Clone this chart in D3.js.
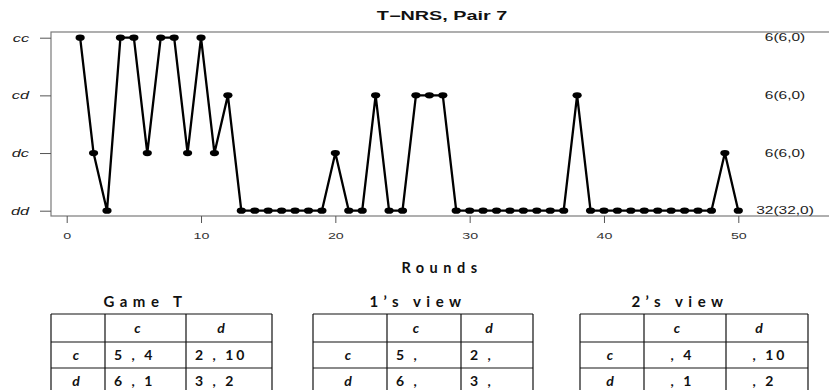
<!DOCTYPE html>
<html>
<head>
<meta charset="utf-8">
<script src="https://cdn.jsdelivr.net/npm/d3@7/dist/d3.min.js"></script>
<style>
    body { margin: 0; background: #fff; }
    svg { display: block; }
</style>
</head>
<body>
<svg id="chart" width="829" height="390"></svg>
<script>
// outcome of each round, rounds 1..50
var outcomes = ["cc", "dc", "dd", "cc", "cc", "dc", "cc", "cc", "dc", "cc", "dc", "cd",
    "dd", "dd", "dd", "dd", "dd", "dd", "dd", "dc", "dd", "dd", "cd", "dd", "dd",
    "cd", "cd", "cd", "dd", "dd", "dd", "dd", "dd", "dd", "dd", "dd", "dd", "cd",
    "dd", "dd", "dd", "dd", "dd", "dd", "dd", "dd", "dd", "dd", "dc", "dd"];
var states = ["cc", "cd", "dc", "dd"];
// numbers in brackets of the right labels
var splitCounts = [[6, 0], [6, 0], [6, 0], [32, 0]];
var xTicks = [0, 10, 20, 30, 40, 50];
var title = "T\u2212NRS, Pair 7";
var xTitle = "Rounds";

// payoff tables
var actions = ["c", "d"];
var payoff1 = [[5, 2], [6, 3]];
var payoff2 = [[4, 10], [1, 2]];
var tableTitles = ["Game T", "1\u2019s view", "2\u2019s view"];
var showPlayer = [[true, true], [true, false], [false, true]];

var svg = d3.select("#chart");
var SX = 1.5; // the picture is stretched sideways

var x = d3.scaleLinear().domain([0, 50]).range([66.7, 738.3]);
var y = d3.scalePoint().domain(states).range([37.7, 210.7]);

function stretchText(g, px, py, txt, sx) {
    return g.append("text")
        .attr("transform", "translate(" + px + "," + py + ") scale(" + sx + ",1)")
        .text(txt);
}

// plot box (right side runs off the picture)
svg.append("rect")
    .attr("x", 51).attr("y", 32)
    .attr("width", 800).attr("height", 184)
    .attr("fill", "none")
    .attr("stroke", "#7a7a7a")
    .attr("stroke-width", 1.2);

// title
stretchText(svg, 442, 20, title, 1.65)
    .attr("text-anchor", "middle")
    .style("font-family", "Liberation Sans, Arial, sans-serif")
    .style("font-weight", "bold")
    .style("font-size", "12px")
    .attr("fill", "#111");

// x axis
var xAxis = svg.append("g")
    .attr("transform", "translate(0,216)")
    .call(d3.axisBottom(x).tickValues(xTicks).tickSize(7).tickPadding(0));
xAxis.select(".domain").remove();
xAxis.selectAll("line").attr("stroke", "#555");
xAxis.selectAll("text")
    .attr("y", 23)
    .attr("dy", null)
    .attr("transform", "scale(" + SX + ",1)")
    .style("font-family", "Liberation Sans, Arial, sans-serif")
    .style("font-size", "9.5px")
    .attr("fill", "#333");

// y axis
var yAxis = svg.append("g")
    .attr("transform", "translate(51,0)")
    .call(d3.axisLeft(y).tickSize(11));
yAxis.select(".domain").remove();
yAxis.selectAll("line").attr("stroke", "#555");
yAxis.selectAll("text")
    .attr("x", -22 / 1.55)
    .attr("dy", "0.32em")
    .attr("transform", "scale(1.55,1)")
    .style("font-family", "Liberation Sans, Arial, sans-serif")
    .style("font-style", "italic")
    .style("font-size", "10.5px")
    .attr("fill", "#222");

// line and points
var line = d3.line()
    .x(function (d, i) { return x(i + 1); })
    .y(function (d) { return y(d); });

svg.append("path")
    .datum(outcomes)
    .attr("d", line)
    .attr("fill", "none")
    .attr("stroke", "#000")
    .attr("stroke-width", 2.3)
    .attr("stroke-linejoin", "round");

svg.selectAll(".pt")
    .data(outcomes)
    .enter()
    .append("ellipse")
    .attr("class", "pt")
    .attr("cx", function (d, i) { return x(i + 1); })
    .attr("cy", function (d) { return y(d); })
    .attr("rx", 4.6)
    .attr("ry", 3.1)
    .attr("fill", "#000");

// counts on the right
var labels = svg.append("g");
states.forEach(function (s, i) {
    var n = outcomes.filter(function (d) { return d === s; }).length;
    stretchText(labels, 785, y(s) + 3.5, n + "(" + splitCounts[i][0] + "," + splitCounts[i][1] + ")", 1.55)
        .attr("text-anchor", "middle")
        .style("font-family", "Liberation Sans, Arial, sans-serif")
        .style("font-size", "10px")
        .attr("fill", "#222");
});

// x title
svg.append("text")
    .attr("x", 442)
    .attr("y", 273)
    .attr("text-anchor", "middle")
    .style("font-family", "Lato, sans-serif")
    .style("font-weight", "bold")
    .style("font-size", "14.5px")
    .style("letter-spacing", "5.5px")
    .attr("fill", "#111")
    .text(xTitle);

// tables
var tableCols = [[51, 105, 186, 272], [313, 387, 461, 533], [580, 644, 726, 808]];
var titleShift = [-16, -5, -14];
var rowLines = [314, 342, 368, 394];

tableTitles.forEach(function (t, k) {
    var cols = tableCols[k];
    var g = svg.append("g");
    var mid = (cols[0] + cols[3]) / 2;

    g.append("text")
        .attr("x", mid + titleShift[k])
        .attr("y", 307)
        .attr("text-anchor", "middle")
        .style("font-family", "Lato, sans-serif")
        .style("font-weight", "bold")
        .style("font-size", "15px")
        .style("letter-spacing", "5.5px")
        .attr("fill", "#111")
        .text(t);

    // horizontal lines
    rowLines.forEach(function (ry, r) {
        g.append("line")
            .attr("x1", cols[0]).attr("x2", cols[3])
            .attr("y1", ry).attr("y2", ry)
            .attr("stroke", r === 2 ? "#8a8a8a" : "#111")
            .attr("stroke-width", r === 2 ? 2 : 1.2);
    });
    // vertical lines
    cols.forEach(function (cx) {
        g.append("line")
            .attr("x1", cx).attr("x2", cx)
            .attr("y1", rowLines[0]).attr("y2", rowLines[3])
            .attr("stroke", "#111")
            .attr("stroke-width", 1.2);
    });

    var cellFont = function (sel) {
        return sel.style("font-family", "Lato, sans-serif")
            .style("font-weight", "bold")
            .style("font-size", "14px")
            .attr("fill", "#111");
    };

    // header
    actions.forEach(function (a, j) {
        cellFont(g.append("text"))
            .attr("x", (cols[j + 1] + cols[j + 2]) / 2 - 8)
            .attr("y", 333)
            .attr("text-anchor", "middle")
            .style("font-style", "italic")
            .text(a);
    });

    actions.forEach(function (a, i) {
        var cy = (rowLines[i + 1] + rowLines[i + 2]) / 2 + 5;
        cellFont(g.append("text"))
            .attr("x", (cols[0] + cols[1]) / 2 - 2)
            .attr("y", cy)
            .attr("text-anchor", "middle")
            .style("font-style", "italic")
            .text(a);

        actions.forEach(function (b, j) {
            var txt = cellFont(g.append("text"))
                .attr("x", cols[j + 1] + 9)
                .attr("y", cy)
                .style("letter-spacing", "3px")
                .style("white-space", "pre");
            txt.append("tspan")
                .attr("fill-opacity", showPlayer[k][0] ? 1 : 0)
                .text(payoff1[i][j]);
            txt.append("tspan")
                .text(" , ");
            txt.append("tspan")
                .attr("fill-opacity", showPlayer[k][1] ? 1 : 0)
                .text(payoff2[i][j]);
        });
    });
});
</script>
</body>
</html>
